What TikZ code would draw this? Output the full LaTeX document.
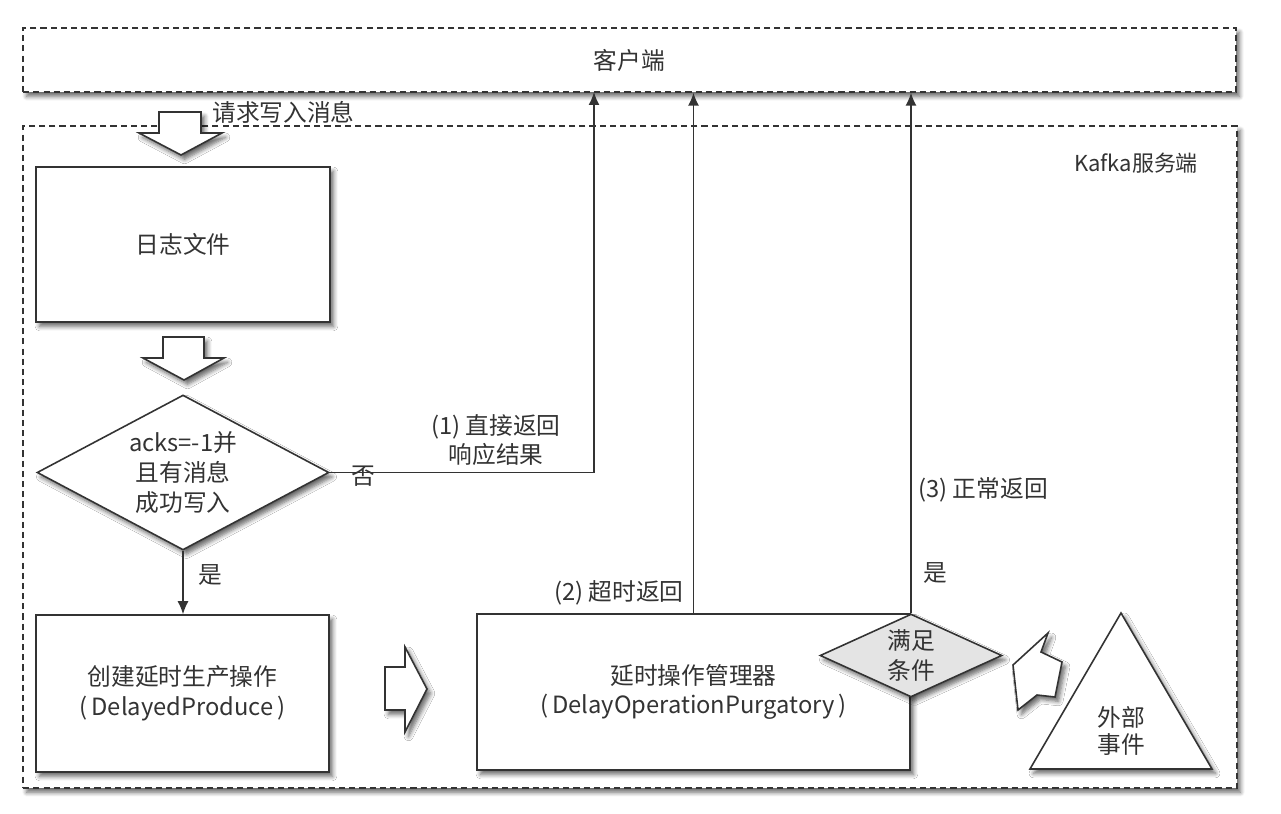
\documentclass[tikz,border=0pt]{standalone}
\usepackage{fontspec}
\setmainfont{Noto Sans CJK SC}
\usepackage{tikz}
\usepackage{xcolor}
\usetikzlibrary{shapes.geometric, arrows.meta, positioning, calc, shadows.blur}
\definecolor{ink}{HTML}{333333}
\definecolor{condfill}{HTML}{E4E4E4}
\tikzstyle{softshadow} = [blur shadow={shadow xshift=2pt, shadow yshift=-2.5pt, shadow blur radius=2.5pt, shadow blur steps=6, shadow opacity=60}]
\tikzstyle{zone} = [rectangle, draw=ink, fill=white, line width=0.8pt, dash pattern=on 3.5pt off 2.3pt, softshadow]
\tikzstyle{box} = [rectangle, draw=ink, fill=white, line width=0.9pt, align=center, softshadow]
\tikzstyle{decision} = [diamond, draw=ink, fill=white, line width=0.9pt, align=center, inner sep=0pt, softshadow]
\tikzstyle{blockshape} = [draw=ink, fill=white, line width=0.9pt, line join=miter, softshadow]
\tikzstyle{arrow} = [-{Latex[length=2.6mm, width=2.2mm]}, draw=ink, line width=0.8pt]
\tikzstyle{lbl} = [text=ink, inner sep=0pt]

\begin{document}
\begin{tikzpicture}[x=0.02cm, y=0.02cm, font=\fontsize{13.5}{17}\selectfont, text=ink]
    \useasboundingbox (0,0) rectangle (1281,-814);

    \node[zone, minimum width=24.28cm, minimum height=13.24cm] (server) at (630,-457) {};
    \node[lbl, font=\fontsize{12.5}{15}\selectfont] (kafka) at (1136,-163) {Kafka服务端};
    \node[zone, minimum width=24.26cm, minimum height=1.28cm] (client) at (629.5,-60) {客户端};

    \draw[blockshape] (159,-112) -- (201,-112) -- (201,-133) -- (222,-133) -- (181,-155) -- (139,-133) -- (159,-133) -- cycle;
    \node[lbl, anchor=west] (request) at (212,-112) {请求写入消息};

    \node[box, minimum width=5.88cm, minimum height=3.10cm] (log) at (183,-244.5) {日志文件};
    \draw[blockshape] (163,-337) -- (204,-337) -- (204,-358) -- (224,-358) -- (184,-380) -- (143,-358) -- (163,-358) -- cycle;

    \node[decision, aspect=1.88, minimum width=5.84cm, minimum height=3.10cm] (check) at (183,-472.5) {acks=-1并\\且有消息\\成功写入};

    \node[box, minimum width=5.86cm, minimum height=3.14cm] (create) at (182.5,-693.5) {创建延时生产操作\\(\,DelayedProduce\,)};
    \draw[blockshape] (385,-667) -- (405,-667) -- (405,-647) -- (427,-689) -- (405,-732) -- (405,-710) -- (385,-710) -- cycle;
    \node[box, minimum width=8.66cm, minimum height=3.12cm] (purg) at (693.5,-692) {延时操作管理器\\(\,DelayOperationPurgatory\,)};
    \node[decision, aspect=2.2, fill=condfill, minimum width=3.64cm, minimum height=1.66cm] (cond) at (911,-655.5) {满足\\条件};

    \draw[blockshape] (1048,-633) -- (1041,-652) -- (1062,-662) -- (1055,-697) -- (1037,-695) -- (1018,-710) -- (1013,-665) -- cycle;
    \draw[blockshape] (1121,-613) -- (1212,-769) -- (1030,-769) -- cycle;
    \node[lbl, align=center, font=\fontsize{13.5}{15.5}\selectfont] (event) at (1121,-731) {外部\\事件};

    \coordinate (ret1) at (594,-92);
    \draw[arrow] (check.east) -| (ret1);
    \node[lbl] (no) at (363,-476) {否};
    \node[lbl, align=center] (ret1lbl) at (496,-440) {(1) 直接返回\\响应结果};

    \draw[arrow] (check.south) -- (check.south |- create.north);
    \node[lbl] (yes1) at (210,-575) {是};

    \draw[arrow] (purg.north) -- (purg.north |- client.south);
    \node[lbl, anchor=east] (ret2lbl) at (684,-593) {(2) 超时返回};

    \draw[arrow] (cond.north) -- (cond.north |- client.south);
    \node[lbl, anchor=west] (ret3lbl) at (918,-490) {(3) 正常返回};
    \node[lbl] (yes2) at (935,-573) {是};
\end{tikzpicture}
\end{document}
